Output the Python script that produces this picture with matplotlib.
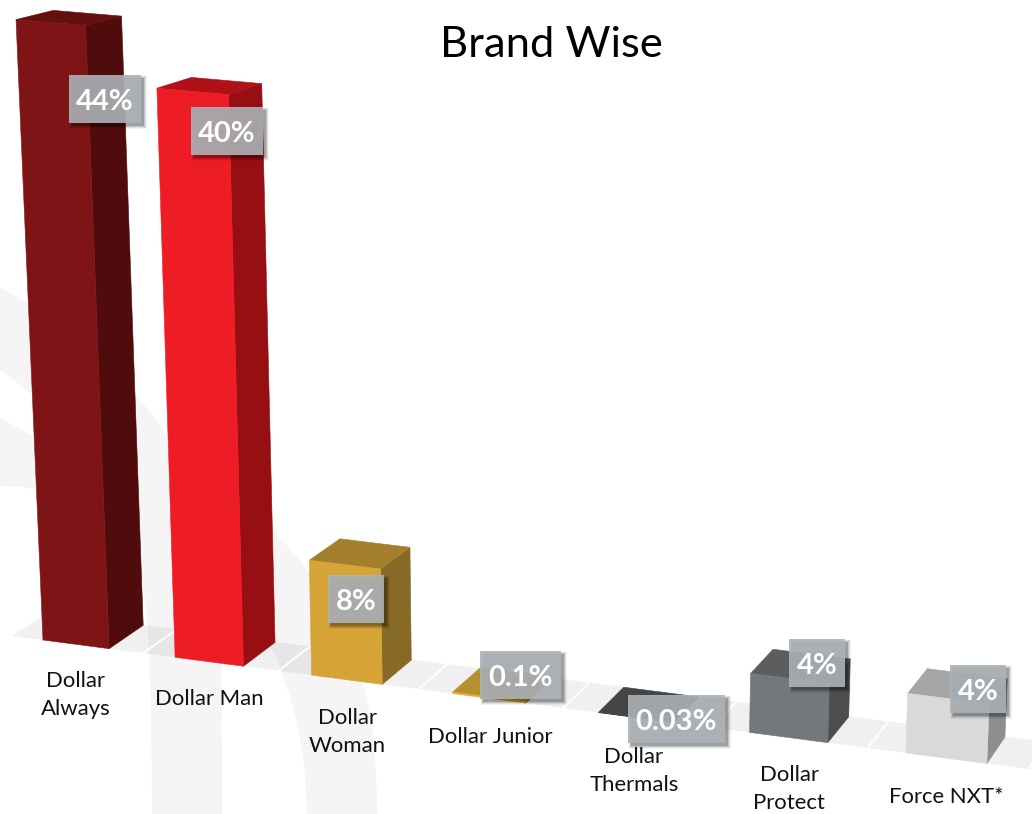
import matplotlib
matplotlib.use('Agg')  # non-interactive backend
import matplotlib.pyplot as plt
from matplotlib.patches import Polygon, Rectangle

plt.rcParams['font.family'] = ['Lato', 'DejaVu Sans']

# Chart data
categories = ["Dollar\nAlways", "Dollar Man", "Dollar\nWoman", "Dollar Junior",
              "Dollar\nThermals", "Dollar\nProtect", "Force NXT*"]
values = [44, 40, 8, 0.1, 0.03, 4, 4]

# Colours per bar: front, side, top
front_colors = ["#7f1416", "#ee1c25", "#d6a436", "#e3ae35", "#454545", "#75787b", "#d9d9d9"]
side_colors = ["#500b0c", "#970e13", "#876a26", "#876a26", "#2e2e2e", "#4d4e50", "#8e8e8e"]
top_colors = ["#640f10", "#b01116", "#a37e2b", "#b58f30", "#454545", "#5c5d5f", "#a5a5a5"]

# Text and box layout in pixels
label_centers = [(76, 695), (209, 699), (347, 732), (490, 737), (634, 771), (789, 789), (946, 797)]
value_boxes = [(69, 75, 72, 48), (191, 107, 72, 48), (328, 575, 56, 48), (480, 651, 81, 48),
               (628, 695, 97, 48), (789, 639, 56, 48), (950, 665, 56, 48)]

# Perspective of the floor and the bars
BAR_WIDTH = 0.505
FLOOR_DEPTH = 1.02
PX_PER_PERCENT = 14.1


def project(u, depth, value):
    """
    Map category position, depth (0-1) and percent value to pixel coordinates.
    """
    x_front = 43 + 130 * u / (1 - 0.016 * u)
    y_front = 640 + 0.1308 * (x_front - 43)
    rise = value * PX_PER_PERCENT * (1 + 0.009 * u)
    x = x_front + (36 - 0.0182 * x_front) * depth
    y = y_front + (-(23 + 0.0034 * x_front) + 0.0225 * rise) * depth
    # verticals spread apart towards the top
    x += (x - 543) * 8.7e-5 * rise
    return x, y - rise


def draw_face(ax, corners, color, zorder=3):
    pts = [project(*c) for c in corners]
    # hairline edge in the face colour closes the seam between faces
    ax.add_patch(Polygon(pts, closed=True, facecolor=color, edgecolor=color, linewidth=0.4, zorder=zorder))


def draw_bar(ax, u, value, front, side, top):
    right = u + BAR_WIDTH
    draw_face(ax, [(right, 0, 0), (right, 1, 0), (right, 1, value), (right, 0, value)], side)
    draw_face(ax, [(u, 0, value), (right, 0, value), (right, 1, value), (u, 1, value)], top)
    draw_face(ax, [(u, 0, 0), (right, 0, 0), (right, 0, value), (u, 0, value)], front)


def smooth_outline(points, passes=3):
    # Chaikin corner cutting for a closed outline
    for _ in range(passes):
        out = []
        for (x0, y0), (x1, y1) in zip(points, points[1:] + points[:1]):
            out.append((0.75 * x0 + 0.25 * x1, 0.75 * y0 + 0.25 * y1))
            out.append((0.25 * x0 + 0.75 * x1, 0.25 * y0 + 0.75 * y1))
        points = out
    return points


def draw_backdrop(ax):
    # pale swooshes behind the chart, corners kept off the canvas
    band_a = [(-30, 272), (28, 302), (80, 340), (135, 393), (168, 435), (195, 490), (212, 560),
              (220, 630), (222, 700), (222, 900), (153, 900), (151, 700), (148, 627), (143, 580),
              (125, 530), (90, 470), (60, 425), (32, 392), (-30, 350)]
    band_b = [(-30, 395), (33, 440), (120, 460), (230, 490), (273, 530), (307, 568), (340, 625),
              (365, 685), (376, 750), (380, 900), (307, 900), (307, 777), (296, 715), (282, 672),
              (272, 645), (200, 580), (100, 510), (36, 487), (-30, 485)]
    for band in (band_a, band_b):
        ax.add_patch(Polygon(smooth_outline(band), closed=True, facecolor="#f5f5f6",
                             edgecolor='none', zorder=1))


def draw_floor(ax):
    corners = [(-0.24, 0, 0), (7.3, 0, 0), (7.3, FLOOR_DEPTH, 0), (-0.24, FLOOR_DEPTH, 0)]
    pts = [project(*c) for c in corners]
    ax.add_patch(Polygon(pts, closed=True, facecolor="black", alpha=0.06, edgecolor='none', zorder=2))
    for i in range(len(values)):
        x0, y0 = project(i + 0.76, 0, 0)
        x1, y1 = project(i + 0.76, FLOOR_DEPTH, 0)
        ax.plot([x0, x1], [y0, y1], color="white", lw=1.4, zorder=2.5, solid_capstyle='butt')


def draw_value_box(ax, box, text):
    x, y, w, h = box
    # soft drop shadow built up from stacked rectangles
    for grow, alpha in [(5, 0.05), (3.5, 0.08), (2, 0.12), (0.5, 0.18)]:
        ax.add_patch(Rectangle((x + 3 - grow / 2, y + 3 - grow / 2), w + grow, h + grow,
                               facecolor="black", alpha=alpha, edgecolor='none', zorder=5))
    ax.add_patch(Rectangle((x, y), w, h, facecolor="#adb3b7", alpha=0.9, edgecolor='none', zorder=6))
    ax.text(x + w / 2, y + h / 2 + 3, text, color="white", fontsize=21, fontweight='bold',
            ha='center', va='center', zorder=7)


fig = plt.figure(figsize=(10.32, 8.14), dpi=100)
ax = fig.add_axes([0, 0, 1, 1])
ax.set_xlim(0, 1032)
ax.set_ylim(814, 0)
ax.axis('off')

draw_backdrop(ax)
draw_floor(ax)

for i, value in enumerate(values):
    draw_bar(ax, i, value, front_colors[i], side_colors[i], top_colors[i])

for i, value in enumerate(values):
    draw_value_box(ax, value_boxes[i], f"{value:g}%")
    x, y = label_centers[i]
    ax.text(x, y, categories[i], color="#111111", fontsize=15.9, ha='center', va='center',
            linespacing=1.55, zorder=7)

ax.text(551, 45, "Brand Wise", color="black", fontsize=31.3, ha='center', va='center', zorder=7)

fig.savefig("out.png", dpi=100)
plt.close(fig)
